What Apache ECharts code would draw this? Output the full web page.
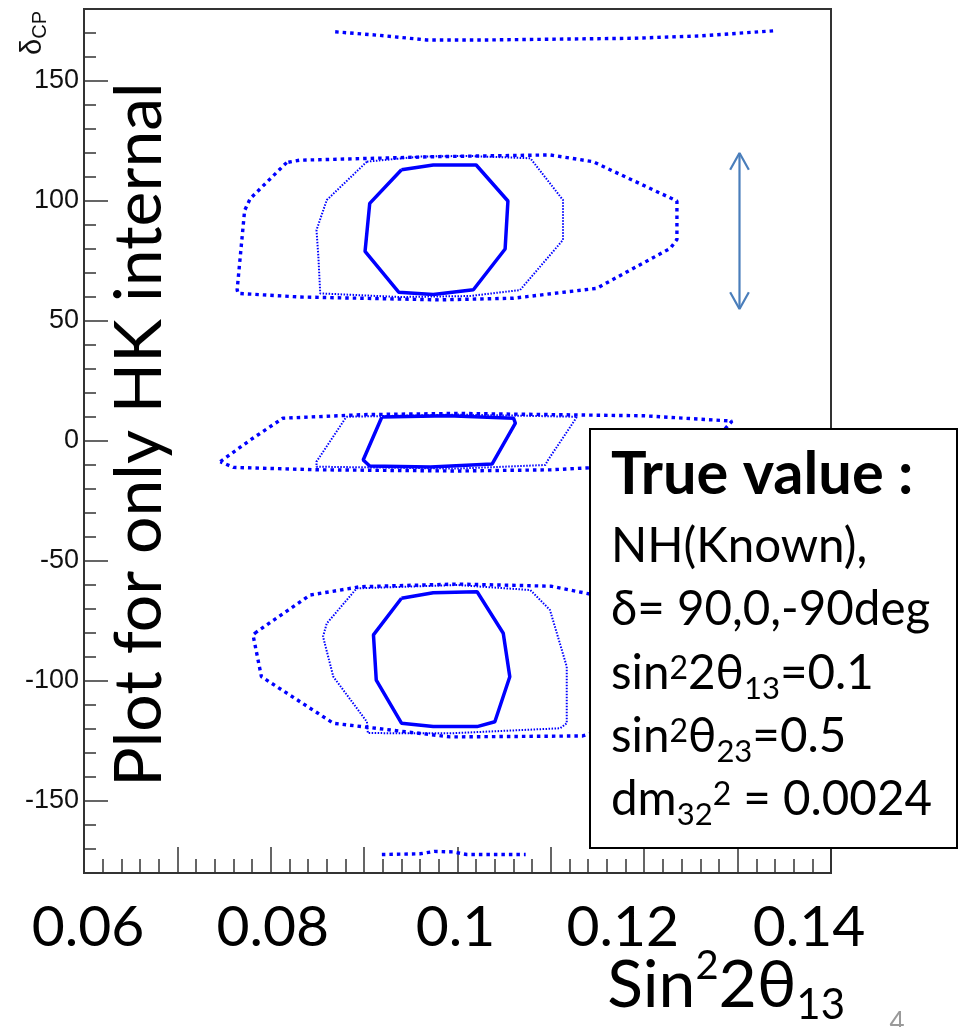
<!DOCTYPE html>
<html><head><meta charset="utf-8">
<script src="https://cdn.jsdelivr.net/npm/echarts@6/dist/echarts.min.js"></script>
<style>html,body{margin:0;padding:0;background:#fff}#c{width:959px;height:1027px}</style>
</head><body><div id="c"></div>
<script>
// ---- axes ----
const xRange = [0.06, 0.14];
const yRange = [-180, 180];
const xMajorTicks = [0.06, 0.07, 0.08, 0.09, 0.10, 0.11, 0.12, 0.13, 0.14];
const xMinorTicks = [0.062,0.064,0.066,0.068, 0.072,0.074,0.076,0.078, 0.082,0.084,0.086,0.088,
  0.092,0.094,0.096,0.098, 0.102,0.104,0.106,0.108, 0.112,0.114,0.116,0.118,
  0.122,0.124,0.126,0.128, 0.132,0.134,0.136,0.138];
const xLabelValues = [0.06, 0.08, 0.10, 0.12, 0.14];
const xTickLabels = ['0.06', '0.08', '0.1', '0.12', '0.14'];
const yMajorTicks = [-150, -100, -50, 0, 50, 100, 150];
const yTickLabels = ['-150', '-100', '-50', '0', '50', '100', '150'];
const yMinorTicks = [-170,-160,-140,-130,-120,-110,-90,-80,-70,-60,-40,-30,-20,-10,
  10,20,30,40,60,70,80,90,110,120,130,140,160,170];

// ---- contours (sin^2 2theta13, deltaCP) ----
const solid90 = [[0.0940,113],[0.0974,115],[0.1020,115],[0.1054,100],[0.1051,80],[0.1017,63],[0.0974,61],[0.0937,62],[0.0901,79],[0.0906,99],[0.0940,113]];
const mid90 = [[0.0903,116.4],[0.0960,118.5],[0.1010,118.8],[0.1078,117.8],[0.1113,100.4],[0.1113,83.8],[0.1067,62.9],[0.1013,60.4],[0.0938,60],[0.0853,61.5],[0.0851,76.8],[0.0849,87.9],[0.0860,100.4],[0.0903,116.4]];
const outer90 = [[0.0817,116],[0.0778,101],[0.0772,96],[0.0764,63],[0.0765,61.5],[0.0831,60],[0.0981,58.8],[0.1060,59.5],[0.1149,63.6],[0.1228,80.3],[0.1235,84],[0.1235,100],[0.1145,116.4],[0.1099,119.2],[0.0980,118.5],[0.0831,117],[0.0817,116]];

const solid0 = [[0.0919,10],[0.0990,10.5],[0.1060,9.5],[0.1062,7.4],[0.1037,-9.6],[0.0971,-10.8],[0.0906,-10.4],[0.0899,-7.9],[0.0919,10]];
const mid0 = [[0.0881,10.1],[0.1000,11],[0.1128,10.1],[0.1097,-7.9],[0.1094,-10],[0.1000,-11.5],[0.0849,-10.7],[0.0849,-8.6],[0.0881,10.1]];
const outer0 = [[0.0746,-8.6],[0.0778,0.4],[0.0813,9.5],[0.0900,11],[0.1000,11.5],[0.1100,11],[0.1200,10.5],[0.1294,8.3],[0.1270,-2],[0.1200,-10],[0.1100,-12],[0.1000,-12.5],[0.0850,-12],[0.0760,-11],[0.0746,-8.6]];

const solidM90 = [[0.0940,-65.5],[0.0974,-63.2],[0.1021,-62.8],[0.1049,-80.1],[0.1056,-98.2],[0.1040,-117],[0.1021,-119],[0.0974,-119],[0.0940,-117.6],[0.0913,-99.6],[0.0910,-80.8],[0.0940,-65.5]];
const midM90 = [[0.0892,-61.4],[0.1000,-60],[0.1078,-62.1],[0.1099,-70.4],[0.1117,-94],[0.1117,-117.6],[0.1110,-119.7],[0.0992,-121.8],[0.0904,-121.7],[0.0903,-117],[0.0867,-98.2],[0.0856,-81.5],[0.0860,-76],[0.0892,-61.4]];
const outerM90 = [[0.0785,-79.5],[0.0781,-80.8],[0.0790,-98.2],[0.0867,-117.6],[0.0992,-123.3],[0.1134,-122.9],[0.1150,-121],[0.1230,-104],[0.1235,-95],[0.1235,-80],[0.1145,-64],[0.1100,-60.5],[0.1000,-59.6],[0.0896,-60.7],[0.0842,-64.2],[0.0785,-79.5]];

const bandTop = [[0.0869,170.5],[0.0917,169],[0.0967,167.1],[0.1030,167.1],[0.1188,167.8],[0.1260,168.8],[0.1342,171]];
const bandBottom = [[0.0919,-172.3],[0.0960,-172],[0.0975,-171],[0.0995,-171.2],[0.1010,-172.3],[0.1073,-172.3]];

// ---- annotation arrow ----
const arrowShaft = [[0.1302,120],[0.1302,55]];
const arrowHeadUp = [[0.1292,113],[0.1302,120],[0.1312,113]];
const arrowHeadDown = [[0.1292,62],[0.1302,55],[0.1312,62]];

// ---- texts ----
const yTitle = 'δ{sub|CP}';
const xTitle = 'Sin{sup|2}2θ{sub|13}';
const overlayText = 'Plot for only HK internal';
const boxLines = [
  '{b|True value :}',
  '{m|NH(Known),}',
  '{m|δ= 90,0,-90deg}',
  '{m|sin}{sup|2}{m|2θ}{sub|13}{m|=0.1}',
  '{m|sin}{sup|2}{m|θ}{sub|23}{m|=0.5}',
  '{m|dm}{sub|32}{sup|2}{m| = 0.0024}'
];
const slideNo = '4';

const SANS = 'Lato, "Noto Sans", sans-serif';
const ROOTF = '"Liberation Sans", Arial, sans-serif';
const BLUE = '#0000ff';

const chart = echarts.init(document.getElementById('c'), null, {renderer: 'canvas'});

function contour(data, kind) {
  const st = kind === 'solid' ? {width: 3.5, type: 'solid'}
    : kind === 'mid' ? {width: 2, type: [1.5, 1.5]}
    : {width: 3.4, type: [3.5, 4]};
  return {type: 'line', data: data, xAxisIndex: 0, yAxisIndex: 0, showSymbol: false, symbol: 'none',
    silent: true, smooth: false, lineStyle: Object.assign({color: BLUE}, st), z: 3};
}
function arrowPart(data) {
  return {type: 'line', data: data, xAxisIndex: 0, yAxisIndex: 0, showSymbol: false, symbol: 'none',
    silent: true, lineStyle: {color: '#4a7ebb', width: 2.2}, z: 4};
}

const labelShift = [8, 4, -4, -43, -44]; // padding offsets (px) for the hand-placed x labels
const xRich = {};
xTickLabels.forEach(function (t, i) {
  const s = labelShift[i];
  xRich['s' + i] = {fontSize: 57, fontFamily: SANS, color: '#000',
    padding: s >= 0 ? [0, 0, 0, s] : [0, -s, 0, 0]};
});

const bm = 47.5; // box main font
const bb = 59.5; // box bold font
const boxRich = {
  b: {fontSize: bb, fontWeight: 'bold', fontFamily: SANS, color: '#000', lineHeight: 62},
  m: {fontSize: bm, fontFamily: SANS, color: '#000', lineHeight: 62},
  sup: {fontSize: 32, fontFamily: SANS, color: '#000', lineHeight: 30, verticalAlign: 'top', padding: [10, 0, 0, 0]},
  sub: {fontSize: 31, fontFamily: SANS, color: '#000', lineHeight: 20, verticalAlign: 'bottom'}
};
const boxBaselines = [498, 565, 628, 692, 755, 818];
const boxTexts = boxLines.map(function (t, i) {
  const fs = i === 0 ? bb : bm;
  return {type: 'text', x: 611, y: boxBaselines[i] - 0.387 * fs,
    style: {text: t, rich: boxRich, align: 'left', verticalAlign: 'middle'}, z: 101};
});

const option = {
  animation: false,
  backgroundColor: '#fff',
  grid: {left: 84, top: 9, right: 128, bottom: 154, show: true, borderColor: '#333', borderWidth: 2,
    backgroundColor: 'transparent', containLabel: false, outerBoundsMode: 'none'},
  xAxis: [
    {type: 'value', min: xRange[0], max: xRange[1], position: 'bottom',
      axisLine: {show: true, onZero: false, lineStyle: {color: '#333', width: 2}},
      axisTick: {show: true, inside: true, length: 26, customValues: xMajorTicks, lineStyle: {color: '#333', width: 1.5}},
      axisLabel: {show: true, customValues: xLabelValues, showMinLabel: true, showMaxLabel: true, margin: 26,
        fontSize: 57, fontFamily: SANS, color: '#000', rich: xRich,
        formatter: function (v) {
          let best = 0;
          xLabelValues.forEach(function (lv, i) { if (Math.abs(lv - v) < Math.abs(xLabelValues[best] - v)) best = i; });
          return '{s' + best + '|' + xTickLabels[best] + '}';
        }},
      splitLine: {show: false},
      name: xTitle, nameLocation: 'end', nameGap: 14, nameMoveOverlap: false,
      nameTextStyle: {align: 'right', verticalAlign: 'top', padding: [73, 0, 0, 0], fontSize: 66, fontFamily: SANS, color: '#000', lineHeight: 80,
        rich: {
          sup: {fontSize: 40, fontFamily: SANS, color: '#000', lineHeight: 46, verticalAlign: 'top'},
          sub: {fontSize: 42, fontFamily: SANS, color: '#000', lineHeight: 14, verticalAlign: 'bottom'}
        }}
    },
    {type: 'value', min: xRange[0], max: xRange[1], position: 'bottom',
      axisLine: {show: false, onZero: false},
      axisTick: {show: true, inside: true, length: 14, customValues: xMinorTicks, lineStyle: {color: '#333', width: 1.5}},
      axisLabel: {show: false}, splitLine: {show: false}}
  ],
  yAxis: [
    {type: 'value', min: yRange[0], max: yRange[1], position: 'left',
      axisLine: {show: true, onZero: false, lineStyle: {color: '#333', width: 2}},
      axisTick: {show: true, inside: true, length: 24, customValues: yMajorTicks, lineStyle: {color: '#333', width: 1.5}},
      axisLabel: {show: true, customValues: yMajorTicks, showMinLabel: true, showMaxLabel: true, margin: 5,
        fontSize: 27, fontFamily: ROOTF, color: '#111',
        formatter: function (v) { const i = yMajorTicks.indexOf(Math.round(v)); return i >= 0 ? yTickLabels[i] : ''; }},
      splitLine: {show: false},
      name: yTitle, nameLocation: 'end', nameGap: -2, nameRotate: 90, nameMoveOverlap: false,
      nameTextStyle: {align: 'right', verticalAlign: 'bottom', padding: [0, 0, 34, 0], fontSize: 29, fontFamily: ROOTF, color: '#111', lineHeight: 34,
        rich: {sub: {fontSize: 20, fontFamily: ROOTF, color: '#111', lineHeight: 18, verticalAlign: 'bottom'}}}
    },
    {type: 'value', min: yRange[0], max: yRange[1], position: 'left',
      axisLine: {show: false, onZero: false},
      axisTick: {show: true, inside: true, length: 12, customValues: yMinorTicks, lineStyle: {color: '#333', width: 1.5}},
      axisLabel: {show: false}, splitLine: {show: false}}
  ],
  series: [
    contour(outer90, 'outer'), contour(mid90, 'mid'), contour(solid90, 'solid'),
    contour(outer0, 'outer'), contour(mid0, 'mid'), contour(solid0, 'solid'),
    contour(outerM90, 'outer'), contour(midM90, 'mid'), contour(solidM90, 'solid'),
    contour(bandTop, 'outer'), contour(bandBottom, 'outer'),
    arrowPart(arrowShaft), arrowPart(arrowHeadUp), arrowPart(arrowHeadDown)
  ],
  graphic: [
    {type: 'text', x: 140, y: 434.5, rotation: Math.PI / 2, z: 50,
      style: {text: overlayText, fontSize: 66, fontFamily: SANS, fill: '#000', align: 'center', verticalAlign: 'middle'}},
    {type: 'group', z: 100, children: [
      {type: 'rect', shape: {x: 590, y: 429, width: 367, height: 419}, style: {fill: '#fff', stroke: '#000', lineWidth: 2}, z: 100}
    ].concat(boxTexts)},
    {type: 'text', x: 897, y: 1010, z: 50,
      style: {text: slideNo, fontSize: 26, fontFamily: SANS, fill: '#9a9a9a', align: 'center', verticalAlign: 'top'}}
  ]
};
chart.setOption(option);
</script>
</body></html>
